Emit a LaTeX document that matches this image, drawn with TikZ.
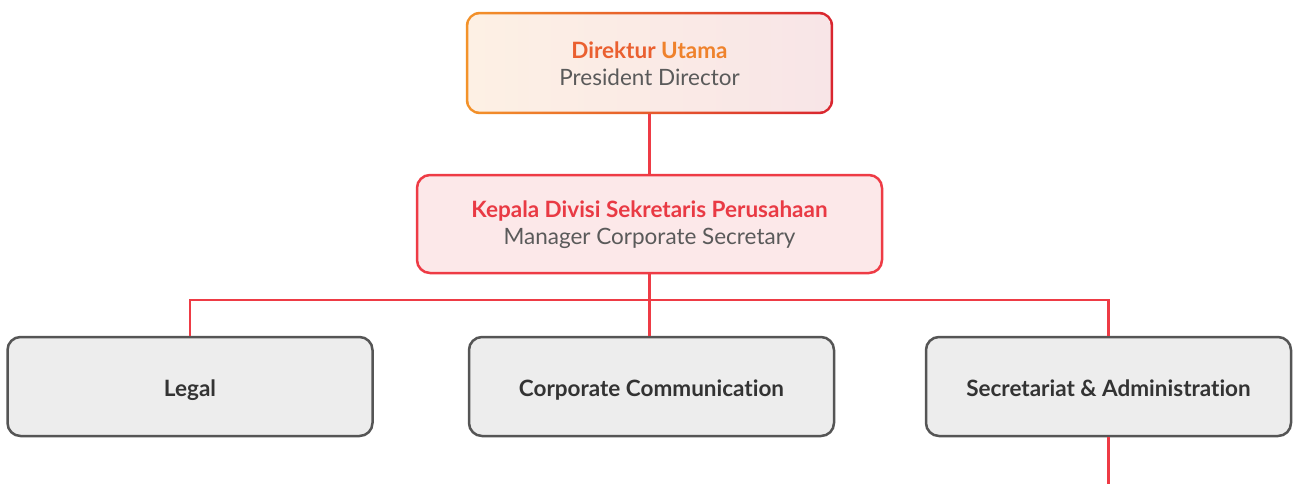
\documentclass[tikz,border=0pt]{standalone}
\usepackage{fontspec}
\setmainfont{Lato}[Ligatures={NoCommon}]
\usetikzlibrary{backgrounds,calc}
\definecolor{borange}{HTML}{F39229}
\definecolor{bred}{HTML}{D9252F}
\definecolor{fillL}{HTML}{FDF0E4}
\definecolor{fillR}{HTML}{F8E5E7}
\definecolor{linered}{HTML}{EE3B45}
\definecolor{mgrfill}{HTML}{FCE8E9}
\definecolor{titlered}{HTML}{E93A44}
\definecolor{subgray}{HTML}{5A5A5A}
\definecolor{boxgray}{HTML}{EDEDED}
\definecolor{boxborder}{HTML}{555555}
\definecolor{darktext}{HTML}{333333}
\definecolor{dirA}{HTML}{EA6030}
\definecolor{dirB}{HTML}{EF822C}
\tikzset{
  conn/.style={draw=linered, line width=2.6pt},
  topbox/.style={minimum width=367pt, minimum height=102pt, inner sep=0pt, align=center, font=\fontsize{22.5}{26.5}\selectfont},
  mgrbox/.style={draw=linered, fill=mgrfill, line width=2.5pt, rounded corners=13pt, minimum width=465pt, minimum height=98pt, inner sep=0pt, align=center, font=\fontsize{22.5}{26.5}\selectfont},
  unitbox/.style={draw=boxborder, fill=boxgray, line width=2.5pt, rounded corners=13pt, minimum width=365pt, minimum height=99pt, inner sep=0pt, text height=19pt, text depth=0pt, font=\bfseries\fontsize{22.5}{26}\selectfont, text=darktext},
}
\begin{document}
\begin{tikzpicture}[x=1pt,y=-1pt]
\useasboundingbox (0,0) rectangle (1294,483);
\node[topbox] (dir) at (649.5,63) {\rule{0pt}{18pt}{\bfseries\color{dirA}Direktur \color{dirB}Utama}\\{\color{subgray}President Director}};
\begin{scope}[on background layer]
  \shade[left color=borange, right color=bred, rounded corners=14pt] (dir.south west) rectangle (dir.north east);
  \shade[left color=fillL, right color=fillR, rounded corners=11.5pt] ($(dir.south west)+(2.5,-2.5)$) rectangle ($(dir.north east)+(-2.5,2.5)$);
\end{scope}
\node[mgrbox] (mgr) at (649.5,224) {\rule{0pt}{18pt}{\bfseries\color{titlered}Kepala Divisi Sekretaris Perusahaan}\\{\color{subgray}Manager Corporate Secretary}};
\node[unitbox] (legal) at (190,386.5) {Legal};
\node[unitbox] (cc) at (651.5,386.5) {Corporate Communication};
\node[unitbox] (sa) at (1108.5,386.5) {Secretariat \& Administration};
\coordinate (bus) at (650,300);
\coordinate (tail) at (1108.5,485);
\draw[conn] (dir.south) -- (mgr.north);
\draw[conn] (mgr.south) -- (cc.north -| mgr.south);
\draw[conn] (legal.north) |- (bus) -| (sa.north);
\draw[conn] (sa.south) -- (tail);
\end{tikzpicture}
\end{document}
